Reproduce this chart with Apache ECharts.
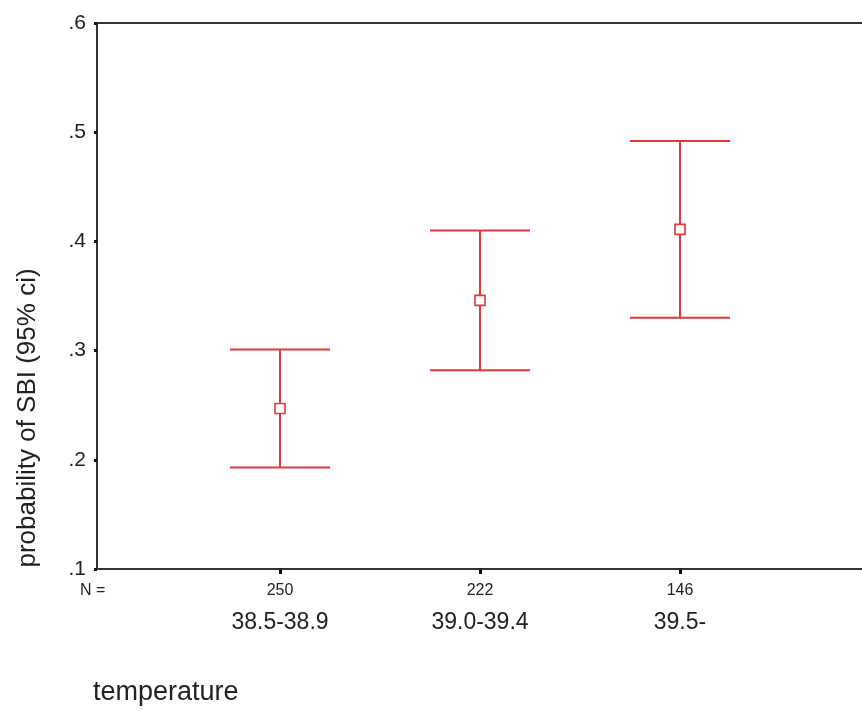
<!DOCTYPE html>
<html>
<head>
<meta charset="utf-8">
<script src="https://cdn.jsdelivr.net/npm/echarts@6/dist/echarts.min.js"></script>
<style>
  html, body { margin: 0; padding: 0; background: #fff; }
  #main { width: 862px; height: 711px; }
</style>
</head>
<body>
<div id="main"></div>
<script>
// temperature groups and their counts
const categories = ['38.5-38.9', '39.0-39.4', '39.5-'];
const nCounts = [250, 222, 146];
// probability of SBI with 95% ci
const means = [0.247, 0.346, 0.411];
const lower = [0.193, 0.282, 0.330];
const upper = [0.301, 0.410, 0.492];

const FONT = '"Liberation Sans", Arial, Helvetica, sans-serif';
const RED = '#e0383c';

const chart = echarts.init(document.getElementById('main'), null, { renderer: 'canvas' });

const barData = categories.map((c, i) => [i, lower[i], upper[i], means[i]]);

function renderErrorBar(params, api) {
    const x = api.value(0);
    const lo = api.coord([x, api.value(1)]);
    const hi = api.coord([x, api.value(2)]);
    const mid = api.coord([x, api.value(3)]);
    const capHalf = 50;
    const box = 10;
    const lineStyle = { stroke: RED, lineWidth: 2 };
    return {
        type: 'group',
        children: [
            { type: 'line', shape: { x1: hi[0], y1: hi[1], x2: lo[0], y2: lo[1] }, style: lineStyle },
            { type: 'line', shape: { x1: hi[0] - capHalf, y1: hi[1], x2: hi[0] + capHalf, y2: hi[1] }, style: lineStyle },
            { type: 'line', shape: { x1: lo[0] - capHalf, y1: lo[1], x2: lo[0] + capHalf, y2: lo[1] }, style: lineStyle },
            { type: 'rect', shape: { x: mid[0] - box / 2, y: mid[1] - box / 2, width: box, height: box },
              style: { fill: '#fff', stroke: RED, lineWidth: 1.6 } }
        ]
    };
}

const option = {
    backgroundColor: '#fff',
    animation: false,
    grid: { left: 97, top: 23, right: 0, bottom: 142 },
    xAxis: [
        {
            type: 'value',
            min: -0.915,
            max: 2.91,
            axisLine: { show: true, onZero: false, lineStyle: { color: '#333', width: 2 } },
            axisTick: { show: true, customValues: [0, 1, 2], length: 5, lineStyle: { color: '#111', width: 3 } },
            axisLabel: {
                customValues: [0, 1, 2],
                margin: 10,
                formatter: v => '{n|' + nCounts[v] + '}\n{c|' + categories[v] + '}',
                rich: {
                    n: { fontFamily: FONT, fontSize: 16, color: '#222', lineHeight: 24 },
                    c: { fontFamily: FONT, fontSize: 23, color: '#222', lineHeight: 40 }
                }
            },
            splitLine: { show: false }
        },
        {
            type: 'value',
            position: 'top',
            min: -0.915,
            max: 2.91,
            axisLine: { show: true, onZero: false, lineStyle: { color: '#333', width: 2 } },
            axisTick: { show: false },
            axisLabel: { show: false },
            splitLine: { show: false }
        }
    ],
    yAxis: {
        type: 'value',
        min: 0.1,
        max: 0.6,
        interval: 0.1,
        axisLine: { show: true, onZero: false, lineStyle: { color: '#333', width: 2 } },
        axisTick: { show: true, length: 3, lineStyle: { color: '#111', width: 3 } },
        axisLabel: {
            margin: 11,
            fontFamily: FONT,
            fontSize: 21,
            color: '#222',
            formatter: v => v.toFixed(1).replace(/^0/, '')
        },
        splitLine: { show: false }
    },
    graphic: [
        {
            type: 'text', x: 28, y: 418, rotation: Math.PI / 2,
            style: { text: 'probability of SBI (95% ci)', font: '26px ' + FONT, fill: '#222', align: 'center', verticalAlign: 'middle' }
        },
        {
            type: 'text', x: 80, y: 591,
            style: { text: 'N =', font: '16px ' + FONT, fill: '#222', align: 'left', verticalAlign: 'middle' }
        },
        {
            type: 'text', x: 93, y: 693,
            style: { text: 'temperature', font: '27px ' + FONT, fill: '#222', align: 'left', verticalAlign: 'middle' }
        }
    ],
    series: [
        {
            type: 'custom',
            renderItem: renderErrorBar,
            encode: { x: 0, y: [1, 2, 3] },
            data: barData
        }
    ]
};

chart.setOption(option);
</script>
</body>
</html>
